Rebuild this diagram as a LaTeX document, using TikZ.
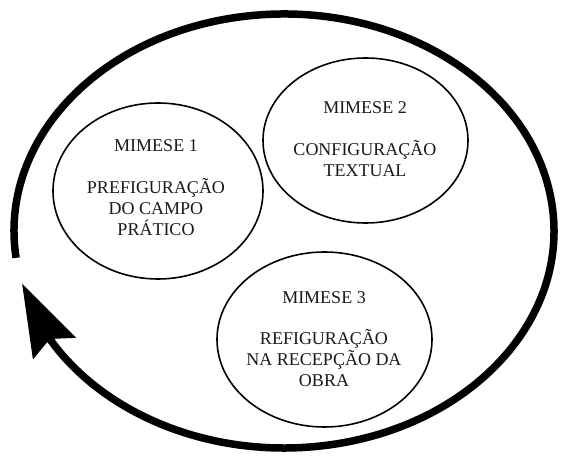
\documentclass[tikz,border=0pt]{standalone}
\usepackage{fontspec}
\setmainfont{Liberation Serif}
\usetikzlibrary{shapes.geometric,arrows.meta,bending,calc}
\begin{document}
\begin{tikzpicture}[x=1pt,y=1pt,
  mim/.style={ellipse,draw=black,line width=1.6pt,inner sep=0pt},
  mtext/.style={align=center,inner sep=0pt,text=black!90,font=\fontsize{18}{20.9}\selectfont},
  cycle/.style={line width=7.5pt,draw=black}]
\useasboundingbox (0,0) rectangle (562,455);
\node[mim,minimum width=210pt,minimum height=176pt] (e1) at (158,264) {};
\node[mim,minimum width=205pt,minimum height=165pt] (e2) at (365.5,314.5) {};
\node[mim,minimum width=215pt,minimum height=175pt] (e3) at (324.5,115.5) {};
\node[mtext] (t1) at (156,267.5) {MIMESE 1\\[20.9pt]PREFIGURAÇÃO\\DO CAMPO\\PRÁTICO};
\node[mtext] (t2) at (365,315.7) {MIMESE 2\\[20.9pt]CONFIGURAÇÃO\\TEXTUAL};
\node[mtext] (t3) at (324,116) {MIMESE 3\\[20.9pt]REFIGURAÇÃO\\NA RECEPÇÃO DA\\OBRA};
\coordinate (ctr) at (284,224);
\coordinate (gapend) at ($(ctr)+(187.1:270 and 217)$);
\draw[cycle,-{Stealth[length=72pt,width=47pt,inset=10pt,flex]}]
  (gapend) arc[start angle=187.1,end angle=-166,x radius=270,y radius=217];
\end{tikzpicture}
\end{document}
